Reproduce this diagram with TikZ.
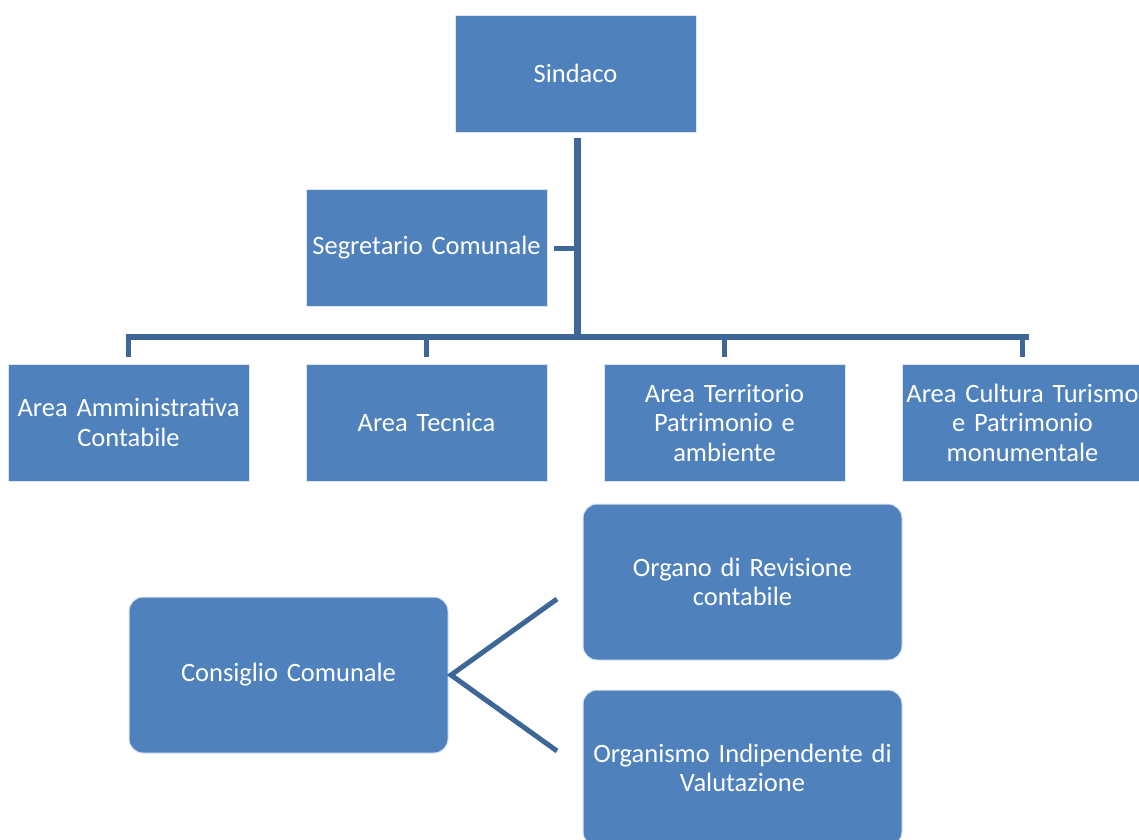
\documentclass[tikz,border=0pt]{standalone}
\usepackage{fontspec}
\setmainfont{Carlito}
\definecolor{boxfill}{HTML}{4F81BD}
\definecolor{linecol}{HTML}{3D6797}
\begin{document}
\begin{tikzpicture}[x=1pt,y=-1pt,
  orgbox/.style={draw=white!80!boxfill, line width=1pt, fill=boxfill, text=white, inner sep=0pt,
    minimum width=241pt, minimum height=117pt, align=center, text width=235pt,
    font=\fontsize{26.5}{29.5}\selectfont},
  roundbox/.style={orgbox, rounded corners=14pt, minimum width=319pt, minimum height=156pt, text width=310pt},
  conn/.style={draw=linecol, line width=6pt},
  thinconn/.style={draw=linecol, line width=5pt}
]
\clip (0,0) rectangle (1139,839);
\fill[white] (0,0) rectangle (1139,839);
% top
\node[orgbox] (sindaco) at (575.5,73.5) {Sindaco};
\node[orgbox] (segr) at (426.5,247.5) {Segretario Comunale};
% row
\node[orgbox] (amm) at (128.5,422.5) {Area Amministrativa\\Contabile};
\node[orgbox] (tec) at (426.5,422.5) {Area Tecnica};
\node[orgbox] (ter) at (724.5,422.5) {Area Territorio\\Patrimonio e\\ambiente};
\node[orgbox] (cul) at (1022.5,422.5) {Area Cultura Turismo\\e Patrimonio\\monumentale};
% bottom
\node[roundbox] (cons) at (288.5,675) {Consiglio Comunale};
\node[roundbox] (org) at (742.5,582) {Organo di Revisione\\contabile};
\node[roundbox] (oiv) at (742.5,768) {Organismo Indipendente di\\Valutazione};
% connectors
\coordinate (bar) at (577,337);
\coordinate (barL) at (126,337);
\coordinate (barR) at (1029,337);
\draw[conn, line width=7pt] ([yshift=-5pt]sindaco.south -| bar) -- ([yshift=-3pt]bar);
\draw[conn] (barL) -- (barR);
\draw[thinconn] ([yshift=-1pt]segr.east) ++(6pt,0) coordinate (s1) -- (s1 -| 573.5,0);
\foreach \n in {amm,tec,ter,cul}{
  \draw[thinconn] (\n.north |- bar) -- ([yshift=7pt]\n.north);
}
\coordinate (tip) at (451,675);
\coordinate (up) at (557,599);
\coordinate (dn) at (557,751);
\draw[thinconn, line join=miter] (up) -- (tip) -- (dn);
\end{tikzpicture}
\end{document}
